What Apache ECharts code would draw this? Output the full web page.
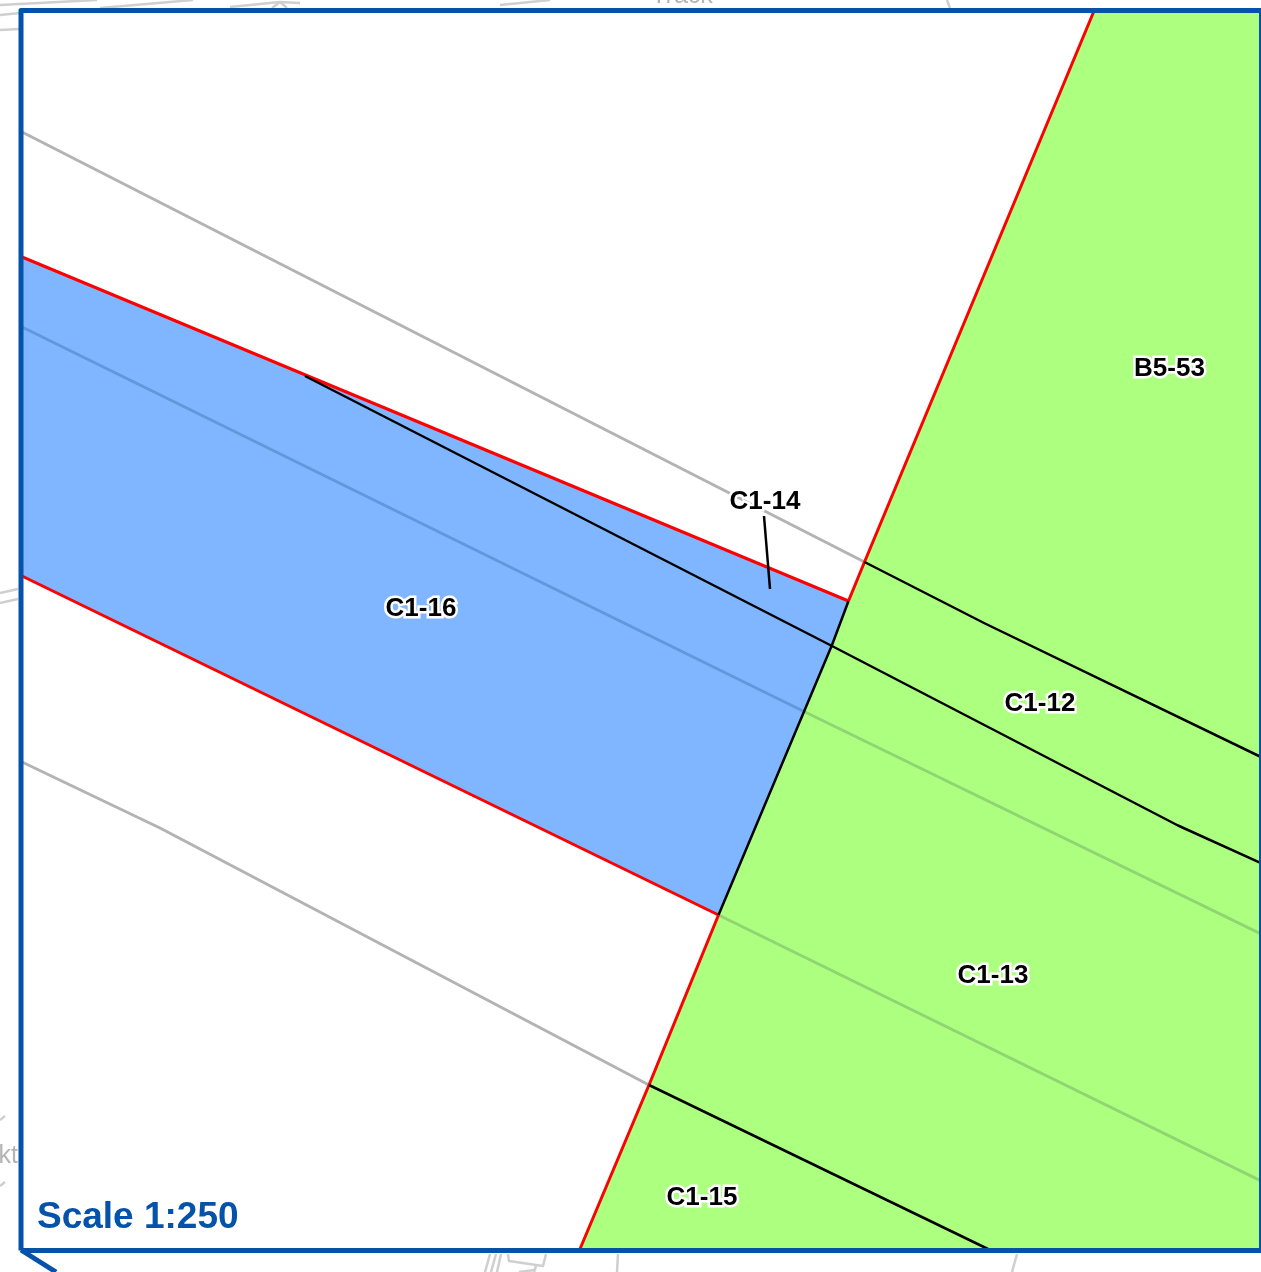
<!DOCTYPE html>
<html><head><meta charset="utf-8">
<style>html,body{margin:0;padding:0;background:#fff}#c{width:1261px;height:1272px}</style>
<script src="https://cdn.jsdelivr.net/npm/echarts@6/dist/echarts.min.js"></script>
</head><body><div id="c"></div>
<script>
// Map geometry in image-plane units (x right, y down)
const greenParcel = [[1094,11],[1261,11],[1261,1249],[580,1249],[649,1085],[718.5,915],[832,645],[848.5,601],[864.5,562]];
const blueParcel = [[22,257],[848.5,601],[832,645],[718.5,915],[22,576]];
const redLines = [
  [[22,257],[848.5,601]],
  [[22,576],[718.5,915]],
  [[1094,11],[864.5,562],[848.5,601]],
  [[718.5,915],[649,1085],[580,1249]]
];
const blackLines = [
  [[305,376],[832,646],[1178,825.5],[1261,863]],
  [[864.5,562],[985,623.5],[1261,757]],
  [[649,1085],[988,1249]],
  [[718.5,915],[832,645],[848.5,601]],
  [[764,516],[770,589]]
];
const grayLines = [
  [[22,132],[864.5,562]],
  [[22,762],[160,828],[649,1085]]
];
const blueOverlayLines = [[[22,327],[803,711]]];
const greenOverlayLines = [[[803,711],[1261,934]],[[718.5,915],[1261,1181]]];
const outsideLines = [
  [[0,5],[97,0]],[[0,15],[20,13]],[[0,30],[20,29]],[[100,8],[193,0]],
  [[230,7],[280,2],[300,3]],[[272,8],[280,2],[287,8]],[[500,5],[550,0]],[[947,0],[950,8]],
  [[0,593],[18,589]],[[0,603],[18,599]],
  [[0,1120],[5,1116]],[[0,1186],[5,1182]],
  [[485,1272],[490,1254]],[[491,1272],[496,1254]],[[497,1272],[501,1254]],
  [[508,1254],[509,1261],[543,1266],[546,1254]],[[519,1272],[535,1270]],[[534,1272],[536,1266]],
  [[617,1272],[618,1254]],[[1012,1272],[1017,1254]]
];
const frameLine = [[21,1250.5],[21,10.5],[1261.5,10.5],[1261.5,1250.5],[21,1250.5]];
const frameTail = [[21,1250],[56,1272]];
const parcelLabels = [
  ['C1-16',421,609],['C1-14',765,502],['C1-12',1040,704],
  ['C1-13',993,976],['C1-15',702,1198],['B5-53',1169.5,369]
];
const outsideTexts = [['Track',682,-4,'center'],['kt',18,1156,'right']];
const scaleLabel = [['Scale 1:250',37,1218]];

const FONT = '"Liberation Sans", Arial, sans-serif';
function poly(points, fill, z){
  return {type:'custom',coordinateSystem:'cartesian2d',data:points,z,silent:true,clip:false,
    renderItem:(p,api)=>{
      if(p.dataIndex!==0) return {type:'group',children:[]};
      return {type:'polygon',shape:{points:points.map(q=>api.coord(q))},style:{fill:fill}};
    }};
}
function paths(list,color,width,z){
  return list.map(d=>({type:'line',data:d,z,silent:true,symbol:'none',clip:false,
    lineStyle:{color,width,cap:'butt',join:'round'}}));
}
const option = {
  animation:false,
  backgroundColor:'#ffffff',
  grid:{left:0,right:0,top:0,bottom:0},
  xAxis:{type:'value',min:0,max:1261,show:false},
  yAxis:{type:'value',min:0,max:1272,inverse:true,show:false},
  series:[
    ...paths(outsideLines,'#cfcfcf',2.5,1),
    {type:'scatter',z:1,silent:true,clip:false,symbolSize:0,itemStyle:{opacity:1},
      data:outsideTexts.map(t=>({value:[t[1],t[2]],
        label:{show:true,opacity:1,formatter:t[0],position:'inside',align:t[3],verticalAlign:'middle',
          color:'#b4b4b4',fontFamily:FONT,fontSize:25}}))},
    poly(greenParcel,'#adff80',2),
    poly(blueParcel,'#80b6ff',2),
    ...paths(blueOverlayLines,'#6098dc',3,3),
    ...paths(greenOverlayLines,'#8fd572',3,3),
    ...paths(grayLines,'#b3b3b3',3,3),
    ...paths(redLines,'#ff0000',3,4),
    ...paths(blackLines,'#000000',2.5,5),
    ...paths([frameLine,frameTail],'#0452aa',5,8),
    {type:'scatter',z:6,silent:true,clip:false,symbolSize:0,itemStyle:{opacity:1},
      data:parcelLabels.map(t=>({value:[t[1],t[2]],
        label:{show:true,opacity:1,formatter:t[0],position:'inside',align:'center',verticalAlign:'middle',
          color:'#000',fontFamily:FONT,fontWeight:'bold',fontSize:26,
          textBorderColor:'#fff',textBorderWidth:5}}))},
    {type:'scatter',z:9,silent:true,clip:false,symbolSize:0,itemStyle:{opacity:1},
      data:scaleLabel.map(t=>({value:[t[1],t[2]],
        label:{show:true,opacity:1,formatter:t[0],position:'inside',align:'left',verticalAlign:'middle',
          color:'#0452aa',fontFamily:FONT,fontWeight:'bold',fontSize:37}}))}
  ]
};
echarts.init(document.getElementById('c'),null,{renderer:'canvas'}).setOption(option);
</script></body></html>
